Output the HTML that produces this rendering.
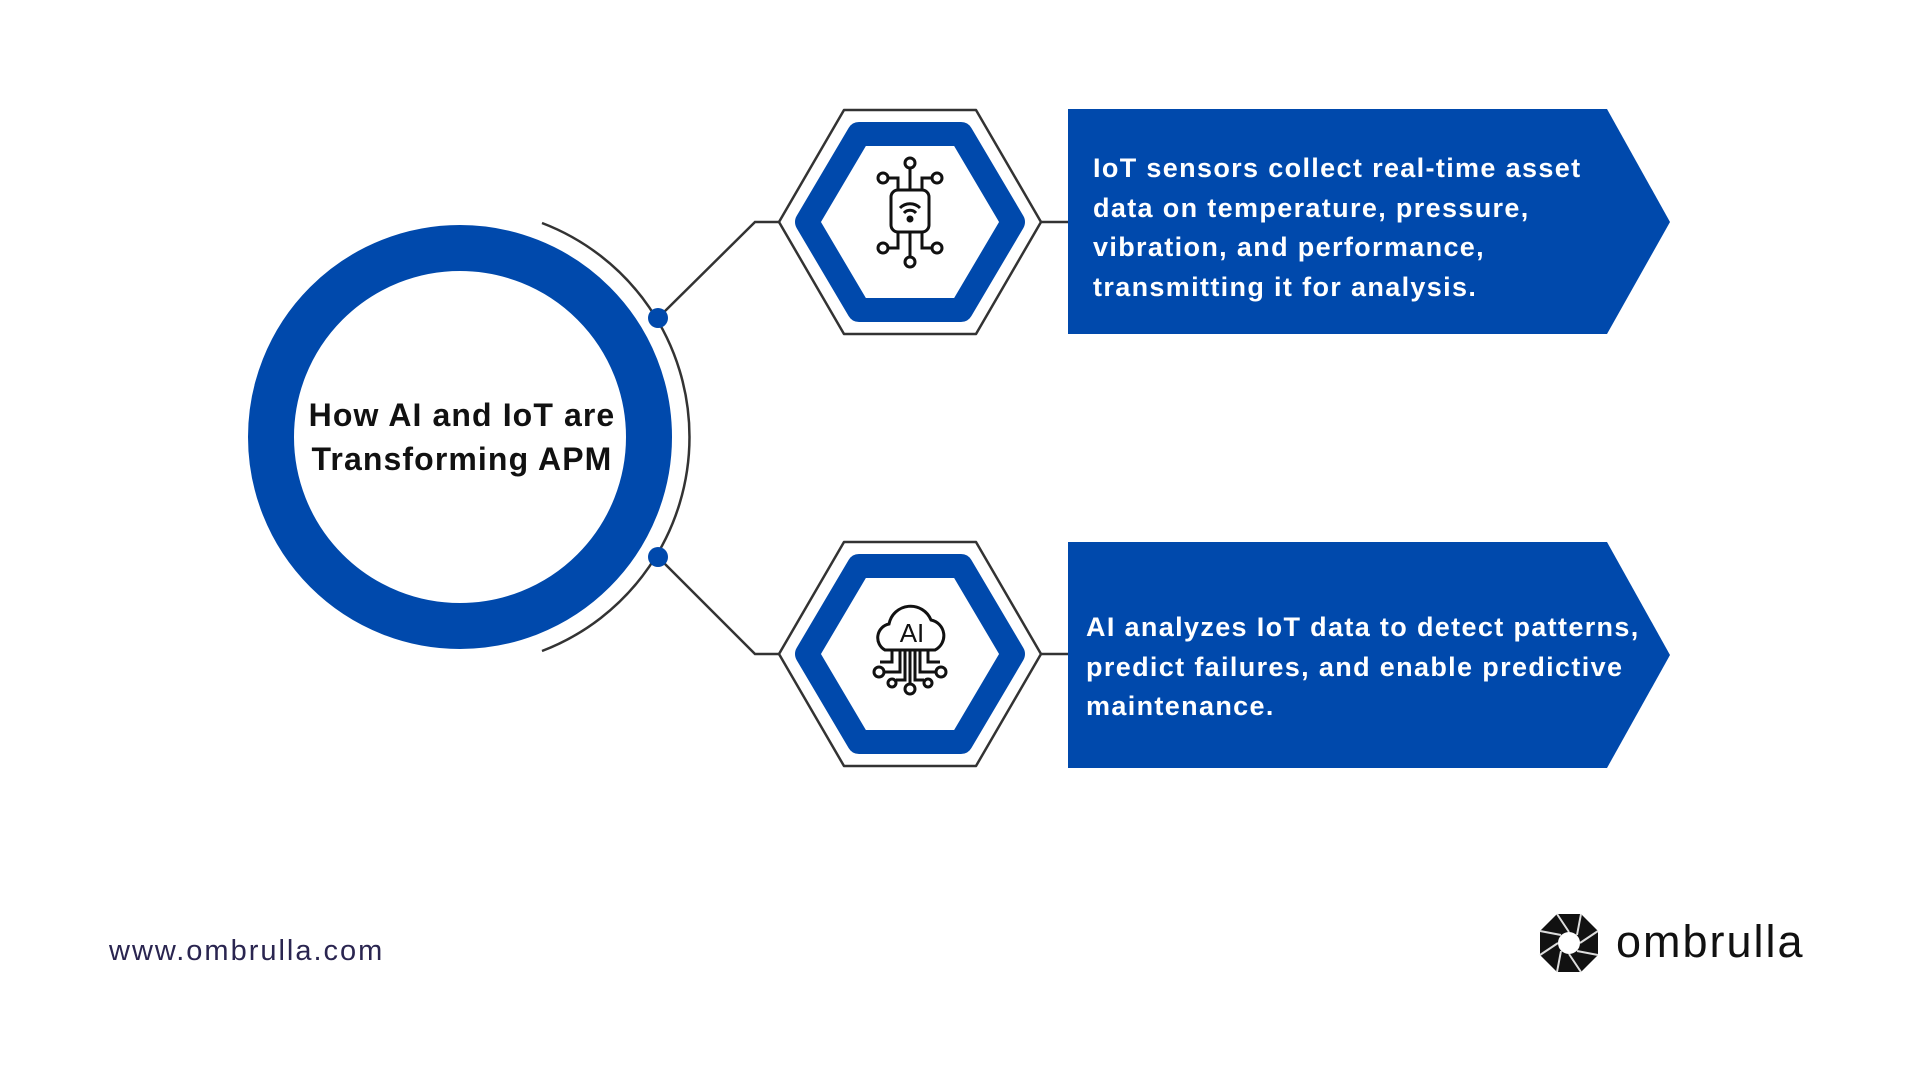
<!DOCTYPE html>
<html><head><meta charset="utf-8"><style>
html,body{margin:0;padding:0;background:#fff;}
body{width:1920px;height:1080px;position:relative;overflow:hidden;font-family:"Liberation Sans",sans-serif;}
.t{position:absolute;color:#fff;font-weight:bold;font-size:27px;line-height:39.5px;letter-spacing:1.35px;white-space:nowrap;}
</style></head><body>
<svg width="1920" height="1080" style="position:absolute;left:0;top:0">
  <circle cx="460" cy="437" r="189" fill="none" stroke="#0049ac" stroke-width="46"/>
  <path d="M542 223 A229 229 0 0 1 542 651" fill="none" stroke="#333" stroke-width="2.5"/>
  <polyline points="658,318 755,222 779,222" fill="none" stroke="#333" stroke-width="2.5"/>
  <polyline points="658,557 755,654 779,654" fill="none" stroke="#333" stroke-width="2.5"/>
  <circle cx="658" cy="318" r="10" fill="#0049ac"/>
  <circle cx="658" cy="557" r="10" fill="#0049ac"/>
  <line x1="1041" y1="222" x2="1068" y2="222" stroke="#333" stroke-width="2.5"/>
  <line x1="1041" y1="654" x2="1068" y2="654" stroke="#333" stroke-width="2.5"/>
  <g>
    <polygon points="779,222 844,110 976,110 1041,222 976,334 844,334" fill="#fff" stroke="#333" stroke-width="2.5" stroke-linejoin="round"/>
    <polygon points="807,222 859,134 961,134 1013,222 961,310 859,310" fill="none" stroke="#0049ac" stroke-width="24" stroke-linejoin="round"/>
  </g>
  <g transform="translate(0,432)">
    <polygon points="779,222 844,110 976,110 1041,222 976,334 844,334" fill="#fff" stroke="#333" stroke-width="2.5" stroke-linejoin="round"/>
    <polygon points="807,222 859,134 961,134 1013,222 961,310 859,310" fill="none" stroke="#0049ac" stroke-width="24" stroke-linejoin="round"/>
  </g>
  <g fill="none" stroke="#111" stroke-width="3">
    <rect x="891" y="190" width="38" height="42" rx="7"/>
    <path d="M900 208 a14 14 0 0 1 20 0 M904 213 a8 8 0 0 1 12 0"/>
    <circle cx="910" cy="219" r="2" fill="#111"/>
    <line x1="910" y1="190" x2="910" y2="168"/><circle cx="910" cy="163" r="5"/>
    <line x1="910" y1="232" x2="910" y2="257"/><circle cx="910" cy="262" r="5"/>
    <polyline points="898,190 898,178 888,178"/><circle cx="883" cy="178" r="5"/>
    <polyline points="922,190 922,178 932,178"/><circle cx="937" cy="178" r="5"/>
    <polyline points="898,232 898,248 888,248"/><circle cx="883" cy="248" r="5"/>
    <polyline points="922,232 922,248 932,248"/><circle cx="937" cy="248" r="5"/>
  </g>
  <g fill="none" stroke="#111" stroke-width="3">
    <path d="M885 650 a14 14 0 0 1 4 -26 a22 22 0 0 1 42 -4 a16 16 0 0 1 4 30 z"/>
    <line x1="910" y1="650" x2="910" y2="684"/><circle cx="910" cy="689" r="5"/>
    <polyline points="900,650 900,672 884,672"/><circle cx="879" cy="672" r="5"/>
    <polyline points="920,650 920,672 936,672"/><circle cx="941" cy="672" r="5"/>
    <polyline points="892,650 892,662 880,662"/>
    <polyline points="928,650 928,662 940,662"/>
    <polyline points="905,650 905,680 896,680"/><circle cx="892" cy="683" r="4"/>
    <polyline points="915,650 915,680 924,680"/><circle cx="928" cy="683" r="4"/>
  </g>
  <text x="912" y="642" font-family="Liberation Sans" font-size="26" text-anchor="middle" fill="#111">AI</text>
  <polygon points="1068,109 1607,109 1670,222 1607,334 1068,334" fill="#0049ac"/>
  <polygon points="1068,542 1607,542 1670,655 1607,768 1068,768" fill="#0049ac"/>
  <g transform="translate(1569,943)">
    <polygon points="-12,-29 12,-29 29,-12 29,12 12,29 -12,29 -29,12 -29,-12" fill="#111"/>
    <g stroke="#ddd" stroke-width="2">
      <line x1="0" y1="-11" x2="-12" y2="-29"/><line x1="8" y1="-8" x2="12" y2="-29"/>
      <line x1="11" y1="0" x2="29" y2="-12"/><line x1="8" y1="8" x2="29" y2="12"/>
      <line x1="0" y1="11" x2="12" y2="29"/><line x1="-8" y1="8" x2="-12" y2="29"/>
      <line x1="-11" y1="0" x2="-29" y2="12"/><line x1="-8" y1="-8" x2="-29" y2="-12"/>
    </g>
    <circle r="11" fill="#fff"/>
  </g>
</svg>
<div style="position:absolute;left:262px;top:393px;width:400px;text-align:center;font-weight:bold;font-size:32px;line-height:44px;color:#111;letter-spacing:1.1px">How AI and IoT are<br>Transforming APM</div>
<div class="t" style="left:1093px;top:149px">IoT sensors collect real-time asset<br>data on temperature, pressure,<br>vibration, and performance,<br>transmitting it for analysis.</div>
<div class="t" style="left:1086px;top:608px">AI analyzes IoT data to detect patterns,<br>predict failures, and enable predictive<br>maintenance.</div>
<div style="position:absolute;left:109px;top:935px;font-size:29px;color:#2a2550;letter-spacing:2px">www.ombrulla.com</div>
<div style="position:absolute;left:1616px;top:916px;font-size:45px;color:#111;letter-spacing:2px">ombrulla</div>
</body></html>
